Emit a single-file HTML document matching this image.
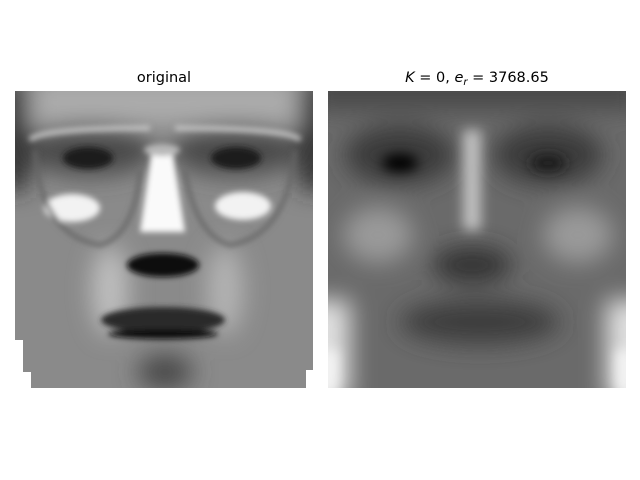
<!DOCTYPE html>
<html><head><meta charset="utf-8"><style>
html,body{margin:0;padding:0;background:#fff;width:640px;height:480px;overflow:hidden}
</style></head><body>
<svg width="640" height="480" xmlns="http://www.w3.org/2000/svg">
<defs>
<filter id="b3" x="-50%" y="-50%" width="200%" height="200%"><feGaussianBlur stdDeviation="3"/></filter>
<filter id="b6" x="-50%" y="-50%" width="200%" height="200%"><feGaussianBlur stdDeviation="6"/></filter>
<filter id="b12" x="-50%" y="-50%" width="200%" height="200%"><feGaussianBlur stdDeviation="12"/></filter>
<clipPath id="cl"><rect x="15" y="91" width="298" height="297"/></clipPath>
<clipPath id="cr"><rect x="328" y="91" width="298" height="297"/></clipPath>
</defs>
<rect width="640" height="480" fill="#fff"/>
<text x="164" y="82" font-family="'DejaVu Sans','Liberation Sans',sans-serif" font-size="14.5" text-anchor="middle">original</text>
<text x="477" y="82" font-family="'DejaVu Sans','Liberation Sans',sans-serif" font-size="14.5" text-anchor="middle"><tspan font-style="italic">K</tspan> = 0, <tspan font-style="italic">e</tspan><tspan font-style="italic" font-size="10" dy="3">r</tspan><tspan dy="-3"> = 3768.65</tspan></text>

<g clip-path="url(#cl)">
<rect x="15" y="91" width="298" height="297" fill="#8a8a8a"/>
<g filter="url(#b12)">
<rect x="30" y="80" width="270" height="45" fill="#acacac"/>
<rect x="0" y="80" width="28" height="110" fill="#2a2a2a"/>
<rect x="300" y="80" width="28" height="110" fill="#2a2a2a"/>
<ellipse cx="90" cy="150" rx="65" ry="26" fill="#4a4a4a"/>
<ellipse cx="235" cy="150" rx="65" ry="26" fill="#4a4a4a"/>
<ellipse cx="110" cy="290" rx="18" ry="45" fill="#c0c0c0"/>
<ellipse cx="225" cy="290" rx="18" ry="45" fill="#b4b4b4"/>
<ellipse cx="165" cy="372" rx="28" ry="18" fill="#4a4a4a"/>
</g>
<g filter="url(#b3)">
<path d="M30 140 Q40 128 150 128 M175 128 Q290 128 300 140" stroke="#c4c4c4" stroke-width="5" fill="none"/>
<ellipse cx="88" cy="158" rx="25" ry="11" fill="#1a1a1a"/>
<ellipse cx="236" cy="158" rx="25" ry="11" fill="#1a1a1a"/>
<polygon points="152,148 172,148 185,232 140,232" fill="#fafafa"/>
<ellipse cx="162" cy="150" rx="18" ry="6" fill="#b8b8b8"/>
<ellipse cx="72" cy="208" rx="28" ry="14" fill="#f2f2f2"/>
<ellipse cx="243" cy="206" rx="28" ry="14" fill="#f2f2f2"/>
<path d="M35 150 Q40 235 100 245 Q135 235 140 170" stroke="#666" stroke-width="4" fill="none"/>
<path d="M295 150 Q288 235 230 245 Q195 235 185 170" stroke="#666" stroke-width="4" fill="none"/>
<ellipse cx="163" cy="265" rx="36" ry="12" fill="#111"/>
<ellipse cx="163" cy="320" rx="62" ry="13" fill="#2a2a2a"/>
<ellipse cx="163" cy="334" rx="55" ry="5" fill="#111"/>
</g>
<rect x="15" y="340" width="8" height="48" fill="#fff"/>
<rect x="23" y="372" width="8" height="16" fill="#fff"/>
<rect x="306" y="370" width="7" height="18" fill="#fff"/>
</g>

<g clip-path="url(#cr)">
<rect x="328" y="91" width="298" height="297" fill="#6a6a6a"/>
<g filter="url(#b12)">
<rect x="310" y="70" width="330" height="40" fill="#4a4a4a"/>
<ellipse cx="400" cy="155" rx="55" ry="30" fill="#3a3a3a"/>
<ellipse cx="548" cy="155" rx="55" ry="30" fill="#3a3a3a"/>
<ellipse cx="378" cy="235" rx="35" ry="28" fill="#9a9a9a"/>
<ellipse cx="578" cy="235" rx="35" ry="28" fill="#9a9a9a"/>
<ellipse cx="472" cy="265" rx="40" ry="18" fill="#333"/>
<ellipse cx="480" cy="322" rx="80" ry="22" fill="#3c3c3c"/>
<rect x="300" y="300" width="50" height="100" fill="#e0e0e0"/>
<rect x="606" y="300" width="50" height="100" fill="#e0e0e0"/>
</g>
<g filter="url(#b6)">
<ellipse cx="400" cy="163" rx="18" ry="9" fill="#000"/>
<ellipse cx="548" cy="163" rx="18" ry="9" fill="#1a1a1a"/>
<rect x="463" y="130" width="18" height="100" fill="#c0c0c0"/>
<rect x="320" y="350" width="18" height="45" fill="#f4f4f4"/>
<rect x="616" y="350" width="18" height="45" fill="#f4f4f4"/>
</g>
</g>
</svg>
</body></html>
